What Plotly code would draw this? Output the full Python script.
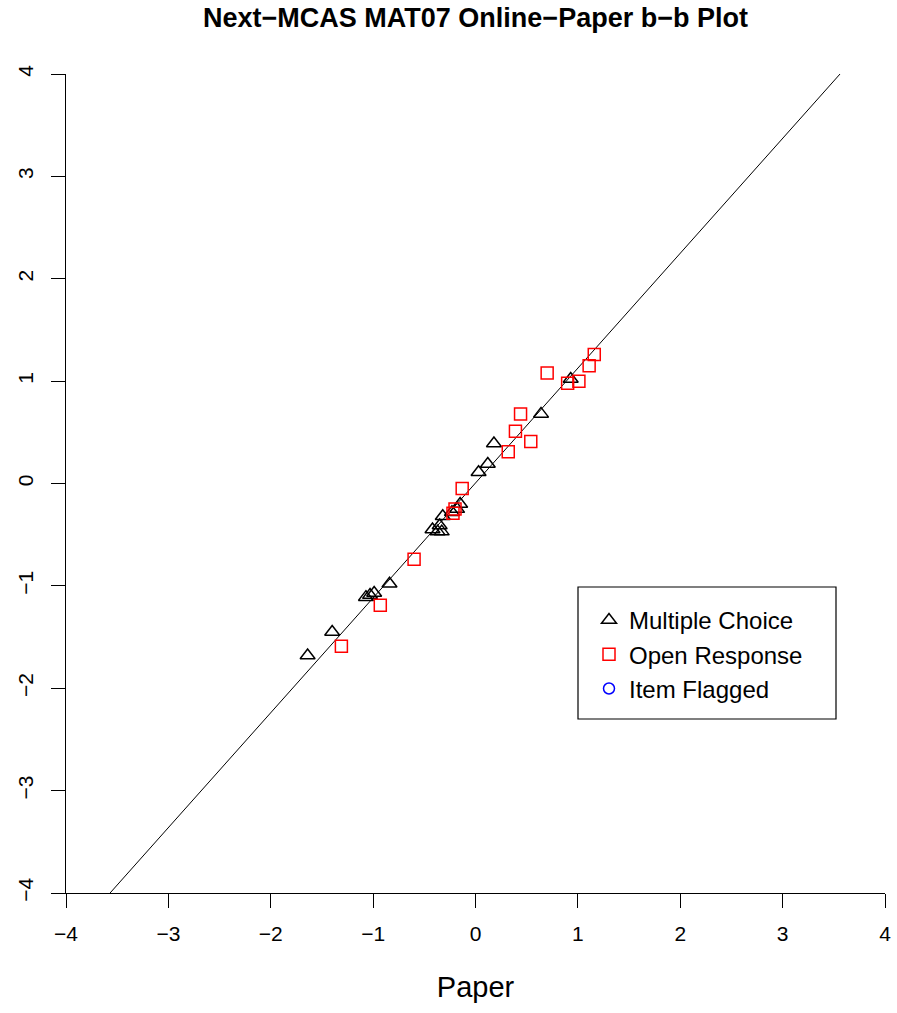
import plotly.graph_objects as go

# Multiple Choice items (Paper b, Online b)
mc_paper  = [-1.64, -1.40, -1.07, -1.03, -0.99, -0.84, -0.42, -0.37, -0.33, -0.35, -0.32, -0.23, -0.18, -0.15, 0.03, 0.12, 0.18, 0.64, 0.93]
mc_online = [-1.68, -1.45, -1.11, -1.09, -1.07, -0.98, -0.45, -0.47, -0.47, -0.41, -0.32, -0.28, -0.25, -0.20, 0.11, 0.19, 0.39, 0.68, 1.02]

# Open Response items
or_paper  = [1.16, 1.11, 0.70, 1.01, 0.90, 0.44, 0.39, 0.54, 0.32, -0.13, -0.20, -0.22, -0.60, -0.93, -1.31]
or_online = [1.26, 1.15, 1.08, 1.00, 0.98, 0.68, 0.51, 0.41, 0.31, -0.05, -0.25, -0.29, -0.74, -1.19, -1.59]

# Fitted line (online = a + b * paper)
line_a = 0.005
line_b = 1.122
line_x = [-4, 4]

tick_vals = [-4, -3, -2, -1, 0, 1, 2, 3, 4]
tick_text = ["\u22124", "\u22123", "\u22122", "\u22121", "0", "1", "2", "3", "4"]

FONT = "Liberation Sans, Arial, sans-serif"

fig = go.Figure()

fig.add_trace(go.Scatter(
    x=line_x, y=[line_a + line_b * v for v in line_x], mode="lines",
    line=dict(color="black", width=1), showlegend=False, hoverinfo="skip"))

fig.add_trace(go.Scatter(
    x=mc_paper, y=mc_online, mode="markers", name="Multiple Choice",
    marker=dict(symbol="triangle-up-open", size=13, color="black", line=dict(width=1.5, color="black"))))

fig.add_trace(go.Scatter(
    x=or_paper, y=or_online, mode="markers", name="Open Response",
    marker=dict(symbol="square-open", size=12, color="#FF0000", line=dict(width=1.5, color="#FF0000"))))

fig.add_trace(go.Scatter(
    x=[None], y=[None], mode="markers", name="Item Flagged",
    marker=dict(symbol="circle-open", size=11, color="#0000FF", line=dict(width=1.5, color="#0000FF"))))

W, H = 897, 1013
L, R, T, B = 66, 12, 74, 120
pw, ph = W - L - R, H - T - B

def px(x):
    return (x - L) / pw

def py(y):
    return (H - B - y) / ph

axis_common = dict(
    range=[-4, 4], tickvals=tick_vals, ticktext=tick_text, automargin=False,
    showgrid=False, zeroline=False, showline=True, linecolor="black", linewidth=1,
    ticks="outside", ticklen=14, tickwidth=1, tickcolor="black",
    tickfont=dict(family=FONT, size=21, color="black"), mirror=False,
)

fig.update_layout(
    width=W, height=H,
    margin=dict(l=L, r=R, t=T, b=B),
    plot_bgcolor="white", paper_bgcolor="white",
    title=dict(text="<b>Next\u2212MCAS MAT07 Online\u2212Paper b\u2212b Plot</b>",
               x=0.5, xref="paper", y=1 - 18 / H, yref="container", yanchor="middle",
               font=dict(family=FONT, size=27, color="black"), automargin=False),
    xaxis=dict(**axis_common, ticklabelstandoff=8,
               title=dict(text="Paper", font=dict(family=FONT, size=29, color="black"), standoff=32)),
    yaxis=dict(**axis_common, tickangle=-90, ticklabelstandoff=10),
    legend=dict(x=px(589), y=py(598), xanchor="left", yanchor="top",
                bgcolor="rgba(0,0,0,0)", borderwidth=0,
                font=dict(family=FONT, size=24, color="black"), tracegroupgap=0),
    shapes=[dict(type="rect", xref="paper", yref="paper",
                 x0=px(578), x1=px(836), y0=py(719), y1=py(587),
                 line=dict(color="black", width=1.2), fillcolor="rgba(0,0,0,0)")],
)

fig.write_html("out.html", config={"displayModeBar": False},
               post_script="document.body.style.margin='0';document.body.style.overflow='hidden';")
